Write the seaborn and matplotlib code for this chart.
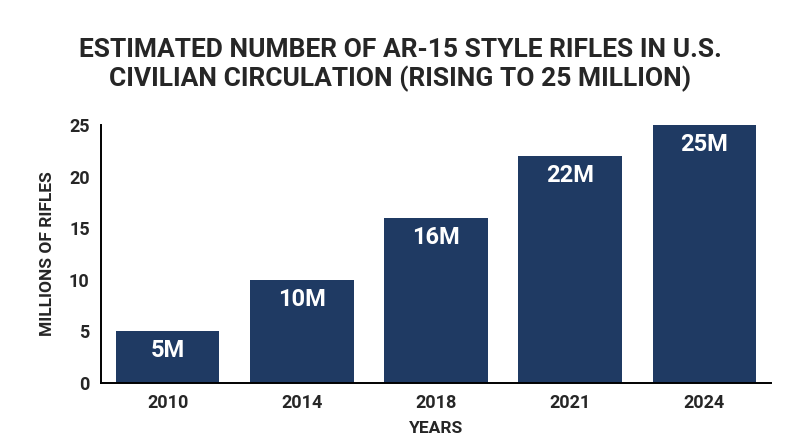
import matplotlib
matplotlib.use("Agg")
import matplotlib.pyplot as plt
import seaborn as sns
import pandas as pd

YEARS = ["2010", "2014", "2018", "2021", "2024"]
RIFLES_M = [5, 10, 16, 22, 25]
BAR_LABELS = ["5M", "10M", "16M", "22M", "25M"]

BAR_COLOR = "#1f3a63"

sns.set_style("white")
plt.rcParams["font.family"] = ["Roboto", "DejaVu Sans"]

df = pd.DataFrame({"year": YEARS, "rifles": RIFLES_M})

fig = plt.figure(figsize=(8, 4.47), dpi=100)
ax = fig.add_axes([0.126, 0.143, 0.838, 0.577])

sns.barplot(data=df, x="year", y="rifles", color=BAR_COLOR, saturation=1,
            width=0.77, linewidth=0, ax=ax)

for bar, lab in zip(ax.patches, BAR_LABELS):
    ax.annotate(lab, (bar.get_x() + bar.get_width() / 2, bar.get_height()),
                xytext=(0, -14), textcoords="offset points",
                ha="center", va="center", color="white",
                fontsize=17, fontweight="bold")

ax.set_xlim(-0.5, 4.5)
ax.set_ylim(0, 25)
ax.set_yticks([0, 5, 10, 15, 20, 25])
ax.tick_params(axis="both", labelsize=13, length=0, pad=8)
for t in ax.get_xticklabels() + ax.get_yticklabels():
    t.set_fontweight("bold")

ax.set_xlabel("YEARS", fontsize=12.5, fontweight="bold", labelpad=6)
ax.set_ylabel("MILLIONS OF RIFLES", fontsize=12.5, fontweight="bold", labelpad=10)

for side in ["top", "right"]:
    ax.spines[side].set_visible(False)
for side in ["left", "bottom"]:
    ax.spines[side].set_color("black")
    ax.spines[side].set_linewidth(1.4)

fig.text(0.5, 0.855, "ESTIMATED NUMBER OF AR-15 STYLE RIFLES IN U.S.\nCIVILIAN CIRCULATION (RISING TO 25 MILLION)",
         ha="center", va="center", fontsize=19, fontweight="bold",
         linespacing=1.15)

fig.savefig("out.png", dpi=100, facecolor="white")
